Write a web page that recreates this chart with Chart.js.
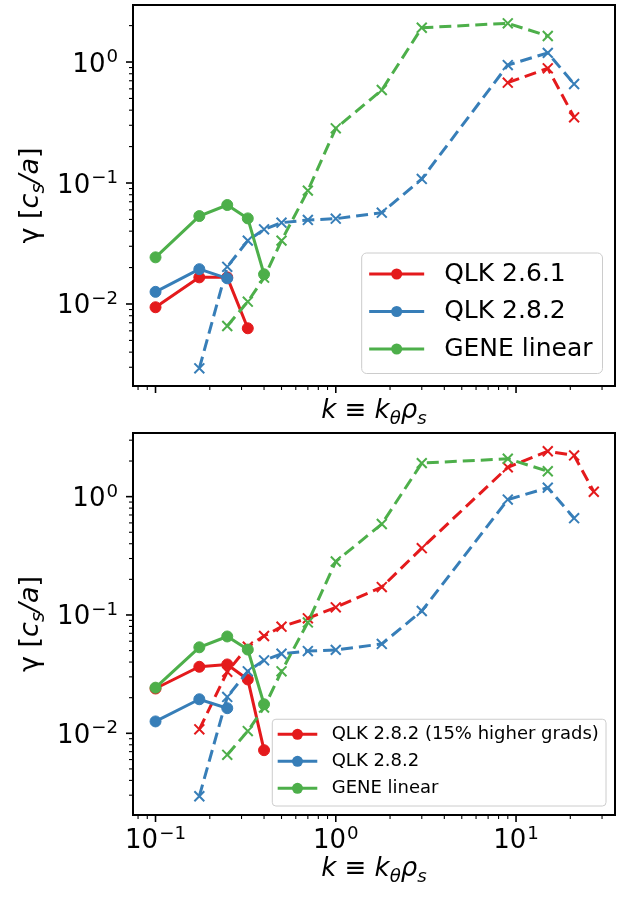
<!DOCTYPE html>
<html>
<head>
<meta charset="utf-8">
<script src="https://cdn.jsdelivr.net/npm/chart.js@4.4.1/dist/chart.umd.min.js"></script>
<style>
  html, body { margin: 0; padding: 0; background: #fff; }
  #wrap { position: relative; width: 627px; height: 897px; }
  #wrap canvas { position: absolute; left: 0; }
</style>
</head>
<body>
<div id="wrap">
  <canvas id="chart-top" width="627" height="430" style="top:0px"></canvas>
  <canvas id="chart-bottom" width="627" height="467" style="top:430px"></canvas>
</div>
<script>
// growth rates gamma [c_s/a] against k = k_theta rho_s
// solid = ion scale scan, dashed = electron scale scan
const kQlk261Lin = [0.1, 0.175, 0.25, 0.325];
const qlk261Lin = [0.0094, 0.0166, 0.0166, 0.0063];
const kQlk261Nl = [9.0, 15, 21];
const qlk261Nl = [0.675, 0.887, 0.349];

const kQlk282Lin = [0.1, 0.175, 0.25];
const qlk282Lin = [0.0126, 0.0194, 0.0163];
const kQlk282Nl = [0.175, 0.25, 0.325, 0.4, 0.5, 0.7, 1.0, 1.8, 3.0, 9.0, 15, 21];
const qlk282Nl = [0.00294, 0.0203, 0.0334, 0.0414, 0.047, 0.0495, 0.0507, 0.0569, 0.108, 0.944, 1.19, 0.658];

const kGeneLin = [0.1, 0.175, 0.25, 0.325, 0.4];
const geneLin = [0.0243, 0.0533, 0.0658, 0.051, 0.0176];
const kGeneNl = [0.25, 0.325, 0.4, 0.5, 0.7, 1.0, 1.8, 3.0, 9.0, 15];
const geneNl = [0.00658, 0.01045, 0.0165, 0.0334, 0.0865, 0.283, 0.587, 1.92, 2.09, 1.64];

const kQlkHiLin = [0.1, 0.175, 0.25, 0.325, 0.4];
const qlkHiLin = [0.0239, 0.0365, 0.0382, 0.0285, 0.0072];
const kQlkHiNl = [0.175, 0.25, 0.325, 0.4, 0.5, 0.7, 1.0, 1.8, 3.0, 9.0, 15, 21, 27];
const qlkHiNl = [0.0108, 0.0331, 0.0539, 0.0664, 0.0796, 0.0937, 0.116, 0.172, 0.367, 1.77, 2.42, 2.23, 1.10];

const xRange = [0.075, 35.4];
const yRangeTop = [0.0021, 2.96];
const yRangeBottom = [0.00204, 3.45];

const RED = '#e41a1c', BLUE = '#377eb8', GREEN = '#4daf4a';
const FONT = '"DejaVu Sans", sans-serif';

function pts(ks, ys) {
    return ys.map((y, i) => ({ x: ks[i], y: y }));
}

function solid(label, color, ks, ys) {
    return {
        label: label,
        data: pts(ks, ys),
        borderColor: color,
        backgroundColor: color,
        borderWidth: 3,
        tension: 0,
        fill: false,
        pointStyle: 'circle',
        pointRadius: 5.5,
        pointBorderWidth: 1,
        pointBackgroundColor: color,
        pointBorderColor: color
    };
}

function dashed(label, color, ks, ys) {
    return {
        label: label,
        data: pts(ks, ys),
        borderColor: color,
        backgroundColor: color,
        borderWidth: 3,
        borderDash: [12, 6],
        tension: 0,
        fill: false,
        pointStyle: 'crossRot',
        pointRadius: 7,
        pointBorderWidth: 2,
        pointBackgroundColor: color,
        pointBorderColor: color
    };
}

function logTicks(min, max) {
    const out = [];
    for (let e = Math.floor(Math.log10(min)); e <= Math.ceil(Math.log10(max)); e++) {
        for (let m = 1; m <= 9; m++) {
            const v = Number((m * Math.pow(10, e)).toPrecision(10));
            if (v >= min && v <= max) out.push({ value: v, major: m === 1 });
        }
    }
    return out;
}

function makeScales(yRange, xHeight) {
    return {
        x: {
            type: 'logarithmic',
            min: xRange[0],
            max: xRange[1],
            grid: { display: false, drawTicks: false },
            border: { display: false },
            ticks: { display: false },
            afterBuildTicks: s => { s.ticks = logTicks(s.min, s.max); },
            afterFit: s => { s.height = xHeight; }
        },
        y: {
            type: 'logarithmic',
            min: yRange[0],
            max: yRange[1],
            grid: { display: false, drawTicks: false },
            border: { display: false },
            ticks: { display: false },
            afterBuildTicks: s => { s.ticks = logTicks(s.min, s.max); },
            afterFit: s => { s.width = 133; }
        }
    };
}

// "10" with a raised exponent, like matplotlib's log labels
function drawPow(ctx, value, x, baseY, align) {
    const e = Math.round(Math.log10(value));
    const exp = (e < 0 ? '\u2212' : '') + Math.abs(e);
    ctx.font = '26px ' + FONT;
    const wb = ctx.measureText('10').width;
    ctx.font = '18.2px ' + FONT;
    const we = ctx.measureText(exp).width;
    const total = wb + 1 + we;
    const x0 = align === 'right' ? x - total : x - total / 2;
    ctx.textAlign = 'left';
    ctx.textBaseline = 'alphabetic';
    ctx.font = '26px ' + FONT;
    ctx.fillText('10', x0, baseY);
    ctx.font = '18.2px ' + FONT;
    ctx.fillText(exp, x0 + wb + 1, baseY - 9.5);
}

// axes box, tick marks and tick labels
const frame = {
    id: 'frame',
    afterDatasetsDraw(chart, args, opts) {
        const ctx = chart.ctx;
        const a = chart.chartArea;
        const xs = chart.scales.x, ys = chart.scales.y;
        ctx.save();
        ctx.strokeStyle = '#000';
        ctx.fillStyle = '#000';
        xs.ticks.forEach(t => {
            const px = xs.getPixelForValue(t.value);
            ctx.lineWidth = t.major ? 1.6 : 1.1;
            ctx.beginPath();
            ctx.moveTo(px, a.bottom);
            ctx.lineTo(px, a.bottom + (t.major ? 7 : 4));
            ctx.stroke();
            if (t.major && opts.showX) drawPow(ctx, t.value, px, a.bottom + 33, 'center');
        });
        ys.ticks.forEach(t => {
            const py = ys.getPixelForValue(t.value);
            ctx.lineWidth = t.major ? 1.6 : 1.1;
            ctx.beginPath();
            ctx.moveTo(a.left, py);
            ctx.lineTo(a.left - (t.major ? 7 : 4), py);
            ctx.stroke();
            if (t.major) drawPow(ctx, t.value, a.left - 15, py + 9.5, 'right');
        });
        ctx.lineWidth = 2;
        ctx.strokeRect(a.left, a.top, a.right - a.left, a.bottom - a.top);
        ctx.restore();
    }
};

function drawRuns(ctx, runs, size, cx, baseY) {
    let w = 0;
    const parts = runs.map(r => {
        const fs = r.sub ? size * 0.7 : size;
        const font = (r.it ? 'italic ' : '') + fs + 'px ' + FONT;
        ctx.font = font;
        const mw = ctx.measureText(r.t).width;
        w += mw;
        return { r: r, font: font, mw: mw };
    });
    let x = cx - w / 2;
    ctx.textAlign = 'left';
    ctx.textBaseline = 'alphabetic';
    parts.forEach(p => {
        ctx.font = p.font;
        ctx.fillText(p.r.t, x, baseY + (p.r.sub ? size * 0.22 : 0));
        x += p.mw;
    });
}

const yTitle = [{ t: '\u03B3 [' }, { t: 'c', it: true }, { t: 's', it: true, sub: true }, { t: '/a', it: true }, { t: ']' }];
const xTitle = [{ t: 'k', it: true }, { t: ' \u2261 ' }, { t: 'k', it: true }, { t: '\u03B8', it: true, sub: true }, { t: '\u03C1', it: true }, { t: 's', it: true, sub: true }];

const titles = {
    id: 'titles',
    afterDraw(chart, args, opts) {
        const ctx = chart.ctx;
        const a = chart.chartArea;
        ctx.save();
        ctx.fillStyle = '#000';
        drawRuns(ctx, xTitle, 26, (a.left + a.right) / 2, opts.xBase);
        ctx.translate(38, (a.top + a.bottom) / 2);
        ctx.rotate(-Math.PI / 2);
        drawRuns(ctx, yTitle, 27, 0, 0);
        ctx.restore();
    }
};

// legend box in the lower right corner of the axes
const boxLegend = {
    id: 'boxLegend',
    afterDraw(chart, args, opts) {
        const ctx = chart.ctx;
        const a = chart.chartArea;
        const f = opts.size;
        const items = opts.entries.map(i => chart.data.datasets[i]);
        ctx.save();
        ctx.font = f + 'px ' + FONT;
        const tw = Math.max(...items.map(d => ctx.measureText(d.label).width));
        const handle = 2.2 * f;
        const w = 0.3 * f + handle + 0.8 * f + tw + 0.4 * f;
        const h = 4.82 * f;
        const right = a.right - 0.5 * f, bottom = a.bottom - 0.5 * f;
        const left = right - w, top = bottom - h;
        ctx.beginPath();
        ctx.roundRect(left, top, w, h, 0.2 * f);
        ctx.fillStyle = 'rgba(255,255,255,0.8)';
        ctx.fill();
        ctx.strokeStyle = '#cccccc';
        ctx.lineWidth = 1;
        ctx.stroke();
        items.forEach((d, i) => {
            const cy = top + 0.84 * f + i * 1.5 * f;
            const x0 = left + 0.3 * f;
            ctx.strokeStyle = d.borderColor;
            ctx.lineWidth = 3;
            ctx.beginPath();
            ctx.moveTo(x0, cy);
            ctx.lineTo(x0 + handle, cy);
            ctx.stroke();
            ctx.fillStyle = d.borderColor;
            ctx.beginPath();
            ctx.arc(x0 + handle / 2, cy, 5.5, 0, Math.PI * 2);
            ctx.fill();
            ctx.fillStyle = '#000';
            ctx.textAlign = 'left';
            ctx.textBaseline = 'middle';
            ctx.fillText(d.label, x0 + handle + 0.8 * f, cy);
        });
        ctx.restore();
    }
};

function makeChart(id, datasets, yRange, showX, xHeight, padTop, legendSize, xBase) {
    return new Chart(document.getElementById(id).getContext('2d'), {
        type: 'line',
        data: { datasets: datasets },
        options: {
            responsive: false,
            animation: false,
            devicePixelRatio: 1,
            layout: { autoPadding: false, padding: { top: padTop, right: 12, left: 0, bottom: 0 } },
            plugins: {
                legend: { display: false },
                tooltip: { enabled: false },
                frame: { showX: showX },
                boxLegend: { size: legendSize, entries: [5, 3, 1] },
                titles: { xBase: xBase }
            },
            scales: makeScales(yRange, xHeight)
        },
        plugins: [frame, titles, boxLegend]
    });
}

makeChart('chart-top', [
    dashed('GENE linear (ETG)', GREEN, kGeneNl, geneNl),
    solid('GENE linear', GREEN, kGeneLin, geneLin),
    dashed('QLK 2.8.2 (ETG)', BLUE, kQlk282Nl, qlk282Nl),
    solid('QLK 2.8.2', BLUE, kQlk282Lin, qlk282Lin),
    dashed('QLK 2.6.1 (ETG)', RED, kQlk261Nl, qlk261Nl),
    solid('QLK 2.6.1', RED, kQlk261Lin, qlk261Lin)
], yRangeTop, false, 44, 5, 25, 418);

makeChart('chart-bottom', [
    dashed('GENE linear (ETG)', GREEN, kGeneNl, geneNl),
    solid('GENE linear', GREEN, kGeneLin, geneLin),
    dashed('QLK 2.8.2 (ETG)', BLUE, kQlk282Nl, qlk282Nl),
    solid('QLK 2.8.2', BLUE, kQlk282Lin, qlk282Lin),
    dashed('QLK 2.8.2 (15% higher grads, ETG)', RED, kQlkHiNl, qlkHiNl),
    solid('QLK 2.8.2 (15% higher grads)', RED, kQlkHiLin, qlkHiLin)
], yRangeBottom, true, 82, 3, 18, 446);
</script>
</body>
</html>
